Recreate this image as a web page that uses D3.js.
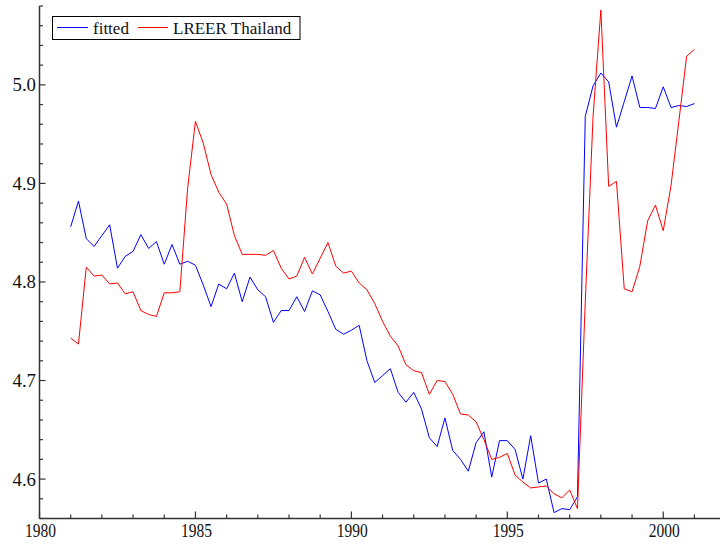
<!DOCTYPE html>
<html>
<head>
<meta charset="utf-8">
<script src="https://cdn.jsdelivr.net/npm/d3@7"></script>
<style>
  body { margin: 0; background: #fff; }
  svg { display: block; font-family: "Liberation Serif", "Times New Roman", serif; }
</style>
</head>
<body>
<svg id="chart" width="720" height="544"></svg>
<script>
// quarterly, 1981Q1 .. 2001Q1
var startYear = 1981;
var fitted = [
  4.856, 4.882, 4.844, 4.836, 4.847, 4.858, 4.814, 4.826, 4.831, 4.848, 4.834, 4.841,
  4.818, 4.838, 4.818, 4.821, 4.817, 4.797, 4.775, 4.798, 4.793, 4.809, 4.780, 4.805,
  4.792, 4.785, 4.759, 4.771, 4.771, 4.785, 4.770, 4.791, 4.787, 4.770, 4.752, 4.747,
  4.751, 4.756, 4.720, 4.698, 4.705, 4.712, 4.688, 4.678, 4.688, 4.671, 4.642, 4.633,
  4.662, 4.629, 4.620, 4.608, 4.637, 4.648, 4.602, 4.639, 4.639, 4.630, 4.600, 4.644,
  4.596, 4.600, 4.566, 4.570, 4.569, 4.582, 4.968, 4.999, 5.012, 5.003, 4.957, 4.983,
  5.009, 4.977, 4.977, 4.976, 4.998, 4.977, 4.979, 4.978, 4.981
];
var lreer = [
  4.743, 4.737, 4.815, 4.806, 4.807, 4.798, 4.799, 4.788, 4.790, 4.771, 4.767, 4.765,
  4.789, 4.789, 4.790, 4.895, 4.963, 4.941, 4.909, 4.891, 4.879, 4.847, 4.828, 4.828,
  4.828, 4.827, 4.832, 4.814, 4.803, 4.806, 4.825, 4.808, 4.824, 4.840, 4.816, 4.809,
  4.811, 4.799, 4.792, 4.778, 4.760, 4.745, 4.735, 4.716, 4.710, 4.708, 4.686, 4.700,
  4.699, 4.686, 4.666, 4.665, 4.658, 4.640, 4.620, 4.622, 4.626, 4.604, 4.597, 4.591,
  4.592, 4.593, 4.585, 4.581, 4.589, 4.570, 4.780, 4.968, 5.076, 4.897, 4.902, 4.793,
  4.790, 4.816, 4.862, 4.878, 4.852, 4.898, 4.963, 5.029, 5.036
];
var xTicks = [1980, 1985, 1990, 1995, 2000];
var yTicks = [4.6, 4.7, 4.8, 4.9, 5.0];
var seriesNames = ["fitted", "LREER Thailand"];
var seriesColors = ["#0000ff", "#ff0000"];

var svg = d3.select("#chart");
var x = d3.scaleLinear().domain([1980, 2001.82]).range([39.5, 720]);
var y = d3.scaleLinear().domain([4.56, 5.08]).range([518.5, 6]);
var axisColor = "#333";

// x axis: ticks point inward (up)
var xMinor = d3.range(1980, 2002, 1);
svg.append("g").selectAll("line").data(xMinor).join("line")
    .attr("x1", function(d) { return x(d); }).attr("x2", function(d) { return x(d); })
    .attr("y1", y.range()[0]).attr("y2", function(d) { return y.range()[0] - (d % 5 == 0 ? 7 : 4); })
    .attr("stroke", axisColor).attr("stroke-width", 1.2);
svg.append("line").attr("x1", x.range()[0]).attr("x2", x.range()[1])
    .attr("y1", y.range()[0]).attr("y2", y.range()[0])
    .attr("stroke", axisColor).attr("stroke-width", 1.5);
svg.append("g").selectAll("text").data(xTicks).join("text")
    .attr("x", function(d) { return x(d) + 1; }).attr("y", 537)
    .attr("text-anchor", "middle").style("font-size", "19px").attr("fill", "#111")
    .attr("textLength", 31).attr("lengthAdjust", "spacingAndGlyphs")
    .text(function(d) { return d; });

// y axis: ticks point inward (right)
var yMinor = d3.range(4.56, 5.0801, 0.02);
svg.append("g").selectAll("line").data(yMinor).join("line")
    .attr("x1", x.range()[0]).attr("x2", function(d) {
        return x.range()[0] + (Math.abs(Math.round(d * 10) - d * 10) < 1e-6 ? 6 : 3.5);
    })
    .attr("y1", function(d) { return y(d); }).attr("y2", function(d) { return y(d); })
    .attr("stroke", axisColor).attr("stroke-width", 1.2);
svg.append("line").attr("x1", x.range()[0]).attr("x2", x.range()[0])
    .attr("y1", y.range()[0]).attr("y2", y.range()[1])
    .attr("stroke", axisColor).attr("stroke-width", 1.5);
svg.append("g").selectAll("text").data(yTicks).join("text")
    .attr("x", 36).attr("y", function(d) { return y(d) + 6.5; })
    .attr("text-anchor", "end").style("font-size", "19px").attr("fill", "#111")
    .attr("textLength", 23.5).attr("lengthAdjust", "spacingAndGlyphs")
    .text(function(d) { return d3.format(".1f")(d); });

var line = d3.line()
    .x(function(d, i) { return x(startYear + i / 4); })
    .y(function(d) { return y(d); });

[fitted, lreer].forEach(function(s, k) {
    svg.append("path").datum(s).attr("d", line)
        .attr("fill", "none").attr("stroke", seriesColors[k])
        .attr("stroke-width", 1).attr("stroke-linejoin", "miter");
});

// legend
var lg = svg.append("g");
lg.append("rect").attr("x", 52.5).attr("y", 16.5).attr("width", 247.5).attr("height", 23)
    .attr("fill", "#fff").attr("stroke", "#000").attr("stroke-width", 1);
var legendX = [[57, 88, 93], [138, 168, 173]];
seriesNames.forEach(function(name, k) {
    lg.append("line").attr("x1", legendX[k][0]).attr("x2", legendX[k][1])
        .attr("y1", 27.5).attr("y2", 27.5)
        .attr("stroke", seriesColors[k]).attr("stroke-width", 1);
    lg.append("text").attr("x", legendX[k][2]).attr("y", 33.5)
        .style("font-size", "17px").attr("fill", "#111").text(name);
});
</script>
</body>
</html>
